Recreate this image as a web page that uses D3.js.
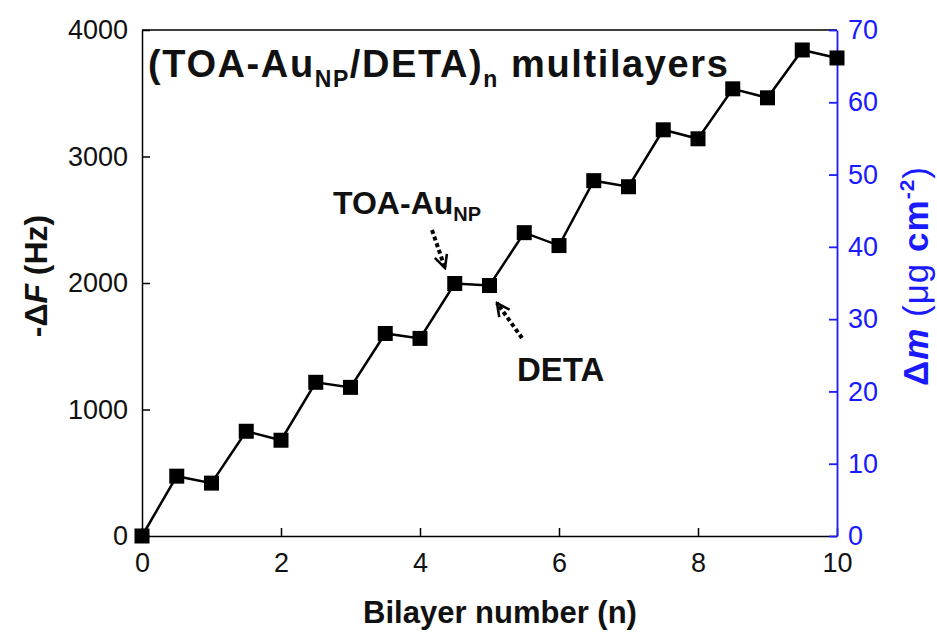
<!DOCTYPE html>
<html>
<head>
<meta charset="utf-8">
<script src="https://d3js.org/d3.v7.min.js"></script>
<style>
  body { margin: 0; background: #fff; }
  text { font-family: "Liberation Sans", Arial, sans-serif; }
</style>
</head>
<body>
<script>
// data
var bilayer = [0, 0.5, 1, 1.5, 2, 2.5, 3, 3.5, 4, 4.5, 5, 5.5, 6, 6.5, 7, 7.5, 8, 8.5, 9, 9.5, 10];
var deltaF  = [0, 473, 418, 828, 757, 1215, 1175, 1601, 1562, 1996, 1980, 2398, 2296, 2809, 2761, 3211, 3140, 3535, 3464, 3842, 3779];
var xTicks = [0, 2, 4, 6, 8, 10];
var yTicks = [0, 1000, 2000, 3000, 4000];
var y2Ticks = [0, 10, 20, 30, 40, 50, 60, 70];

var blue = "#1a1aff";
var W = 937, H = 635;
var margin = {left: 142, top: 30, right: W - 837, bottom: H - 536};
var width = W - margin.left - margin.right,
    height = H - margin.top - margin.bottom;

var svg = d3.select("body").append("svg").attr("width", W).attr("height", H);
var g = svg.append("g").attr("transform", "translate(" + margin.left + "," + margin.top + ")");

var x = d3.scaleLinear().domain([0, 10]).range([0, width]);
var y = d3.scaleLinear().domain([0, 4000]).range([height, 0]);
var y2 = d3.scaleLinear().domain([0, 70]).range([height, 0]);

// top frame line
g.append("line").attr("x1", 0).attr("x2", width).attr("y1", 0).attr("y2", 0)
  .attr("stroke", "#000").attr("stroke-width", 1.5);

// axes
var xAxis = g.append("g").attr("transform", "translate(0," + height + ")")
  .call(d3.axisBottom(x).tickValues(xTicks).tickSize(-8).tickPadding(14).tickSizeOuter(0));
var yAxis = g.append("g")
  .call(d3.axisLeft(y).tickValues(yTicks).tickFormat(d3.format("d")).tickSize(-8).tickPadding(14).tickSizeOuter(0));
var y2Axis = g.append("g").attr("transform", "translate(" + width + ",0)")
  .call(d3.axisRight(y2).tickValues(y2Ticks).tickSize(-8).tickPadding(11).tickSizeOuter(0));

[xAxis, yAxis].forEach(function(a) {
  a.selectAll("path, line").attr("stroke", "#000").attr("stroke-width", 1.5);
  a.selectAll("text").attr("font-size", 27).attr("fill", "#111").attr("font-family", "Liberation Sans, Arial");
});
xAxis.selectAll("text").attr("dy", "0.8em");
y2Axis.selectAll("path, line").attr("stroke", blue).attr("stroke-width", 1.8);
y2Axis.selectAll("text").attr("font-size", 27).attr("fill", blue).attr("font-family", "Liberation Sans, Arial");

// line + markers
var pts = bilayer.map(function(b, i) { return [b, deltaF[i]]; });
var line = d3.line().x(function(d) { return x(d[0]); }).y(function(d) { return y(d[1]); });
g.append("path").datum(pts).attr("d", line)
  .attr("fill", "none").attr("stroke", "#000").attr("stroke-width", 2.5);
g.selectAll(".pt").data(pts).enter().append("rect")
  .attr("x", function(d) { return x(d[0]) - 7.5; })
  .attr("y", function(d) { return y(d[1]) - 7.5; })
  .attr("width", 15).attr("height", 15).attr("fill", "#000");

// title inside plot
var title = g.append("text").attr("x", 6).attr("y", 47)
  .attr("font-size", 38).attr("font-weight", "bold").attr("fill", "#111")
  .attr("letter-spacing", 1.6);
title.append("tspan").text("(TOA-Au");
title.append("tspan").attr("font-size", 23).attr("dy", 10).text("NP");
title.append("tspan").attr("dy", -10).text("/DETA)");
title.append("tspan").attr("font-size", 23).attr("dy", 10).text("n");
title.append("tspan").attr("dy", -10).text(" multilayers");

// annotations
var a1 = svg.append("text").attr("x", 333).attr("y", 214)
  .attr("font-size", 32).attr("font-weight", "bold").attr("fill", "#111");
a1.append("tspan").text("TOA-Au");
a1.append("tspan").attr("font-size", 20).attr("dy", 7).text("NP");
svg.append("text").attr("x", 517).attr("y", 381)
  .attr("font-size", 33).attr("font-weight", "bold").attr("fill", "#111").text("DETA");

svg.append("defs").append("marker").attr("id", "ah")
  .attr("viewBox", "0 0 10 10").attr("refX", 9).attr("refY", 5)
  .attr("markerWidth", 4).attr("markerHeight", 4).attr("orient", "auto")
  .append("path").attr("d", "M1,1 L9,5 L1,9").attr("fill", "none")
  .attr("stroke", "#000").attr("stroke-width", 1.6);

function arrow(x1, y1, x2, y2) {
  svg.append("line").attr("x1", x1).attr("y1", y1).attr("x2", x2).attr("y2", y2)
    .attr("stroke", "#000").attr("stroke-width", 4).attr("stroke-dasharray", "4,3")
    .attr("marker-end", "url(#ah)");
}
arrow(432, 230, 445, 268);
arrow(522, 338, 497, 303);

// axis titles
var yl = svg.append("text").attr("transform", "translate(47,276) rotate(-90)")
  .attr("text-anchor", "middle").attr("font-size", 32).attr("font-weight", "bold").attr("fill", "#111");
yl.append("tspan").text("-\u0394");
yl.append("tspan").attr("font-style", "italic").text("F");
yl.append("tspan").text(" (Hz)");

svg.append("text").attr("x", 500).attr("y", 623).attr("text-anchor", "middle")
  .attr("font-size", 31).attr("font-weight", "bold").attr("fill", "#111")
  .text("Bilayer number (n)");

var y2l = svg.append("text").attr("transform", "translate(928,276) rotate(-90)")
  .attr("text-anchor", "middle").attr("font-size", 35).attr("fill", blue)
  .attr("letter-spacing", 1);
y2l.append("tspan").attr("font-weight", "bold").text("\u0394");
y2l.append("tspan").attr("font-weight", "bold").attr("font-style", "italic").text("m");
y2l.append("tspan").text(" (\u03bcg ");
y2l.append("tspan").attr("font-weight", "bold").text("cm");
y2l.append("tspan").attr("font-weight", "bold").attr("font-size", 21).attr("dy", -14).text("-2");
y2l.append("tspan").attr("dy", 14).text(")");
</script>
</body>
</html>
